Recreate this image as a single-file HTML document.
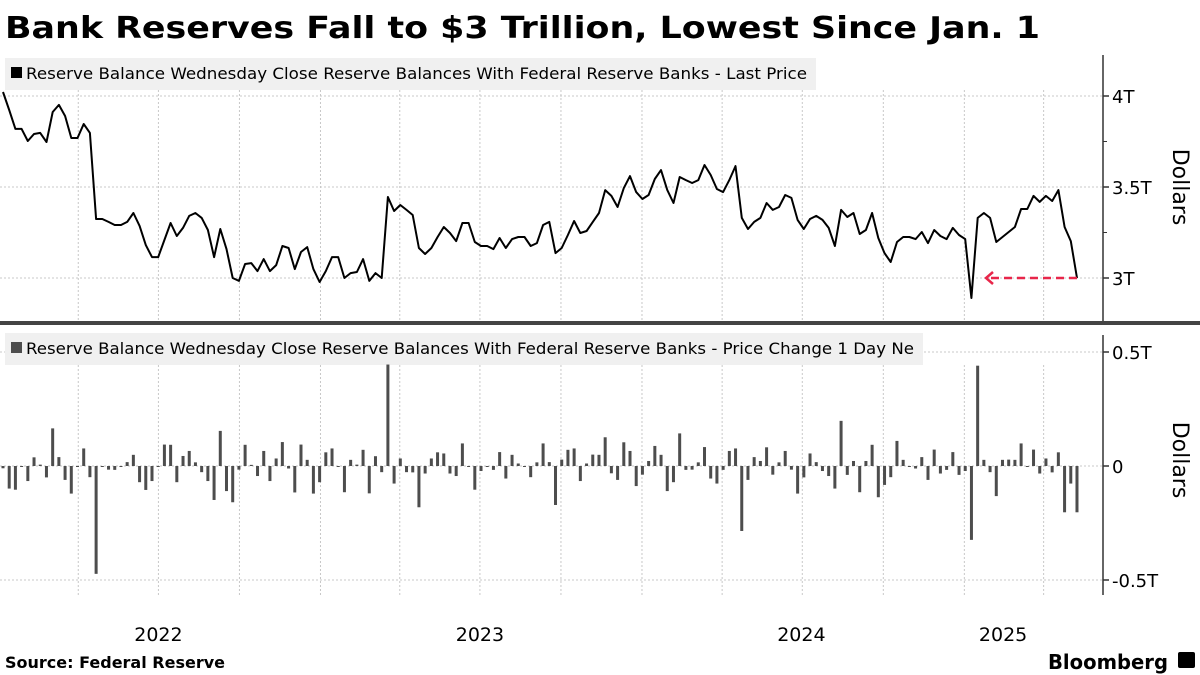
<!DOCTYPE html>
<html><head><meta charset="utf-8"><style>
html,body{margin:0;padding:0;background:#fff}
svg{display:block}
</style></head><body>
<svg id="chart" width="1200" height="675" viewBox="0 0 1200 675" xmlns="http://www.w3.org/2000/svg">
<text x="5" y="38" font-family="DejaVu Sans, sans-serif" font-weight="bold" font-size="30" textLength="1035" lengthAdjust="spacingAndGlyphs" fill="#000">Bank Reserves Fall to $3 Trillion, Lowest Since Jan. 1</text>
<g id="grid"></g>
<rect x="5" y="58" width="811" height="32" fill="#f0f0f0"/>
<rect x="11" y="67" width="11" height="11" fill="#000"/>
<text x="26" y="79" font-family="DejaVu Sans, sans-serif" font-size="16" textLength="781" lengthAdjust="spacingAndGlyphs" fill="#000">Reserve Balance Wednesday Close Reserve Balances With Federal Reserve Banks - Last Price</text>
<rect x="5" y="333" width="918" height="32" fill="#f0f0f0"/>
<rect x="11" y="342" width="11" height="11" fill="#4d4d4d"/>
<text x="26" y="354" font-family="DejaVu Sans, sans-serif" font-size="16" textLength="888" lengthAdjust="spacingAndGlyphs" fill="#000">Reserve Balance Wednesday Close Reserve Balances With Federal Reserve Banks - Price Change 1 Day Ne</text>
<g id="marks"></g>
<rect x="0" y="321" width="1200" height="4" fill="#444"/>
<line x1="1103" y1="55" x2="1103" y2="321" stroke="#333" stroke-width="1.5"/>
<line x1="1103" y1="335" x2="1103" y2="595" stroke="#333" stroke-width="1.5"/>
<g id="axes"></g>
<text transform="translate(1173,187) rotate(90)" text-anchor="middle" font-family="DejaVu Sans, sans-serif" font-size="22" fill="#000">Dollars</text>
<text transform="translate(1173,460) rotate(90)" text-anchor="middle" font-family="DejaVu Sans, sans-serif" font-size="22" fill="#000">Dollars</text>
<text x="5" y="668" font-family="DejaVu Sans, sans-serif" font-weight="bold" font-size="16" fill="#000">Source: Federal Reserve</text>
<text x="1048" y="669" font-family="DejaVu Sans, sans-serif" font-weight="bold" font-size="20" textLength="120" lengthAdjust="spacingAndGlyphs" fill="#000">Bloomberg</text>
<rect x="1178" y="652" width="17" height="16" rx="2" fill="#000"/>
</svg>
<script>
// Weekly reserve balances, billions USD, starting Wed 2022-01-05
const levels = [4022,3923,3819,3819,3753,3791,3797,3747,3912,3951,3890,3769,3769,3846,3797,3324,3324,3308,3291,3291,3308,3357,3286,3181,3115,3115,3209,3302,3231,3275,3341,3357,3330,3264,3115,3269,3159,3000,2984,3077,3082,3038,3104,3038,3071,3176,3165,3049,3143,3170,3049,2978,3038,3115,3115,3000,3027,3033,3104,2984,3027,3000,3445,3368,3401,
3374,3346,3165,3132,3165,3225,3280,3247,3203,3302,3302,3198,3176,3176,3159,3220,3165,3214,3225,3225,3176,3192,3291,3308,3137,3165,3236,3313,3247,3258,3308,3357,3483,3451,3390,3494,3560,3472,3434,3456,3544,3593,3483,3412,3555,3538,3522,3538,3621,3566,3489,3472,3538,3615,3330,3269,3308,3330,3412,3374,3390,3456,3440,3319,
3269,3324,3341,3319,3275,3176,3374,3335,3357,3242,3264,3357,3220,3137,3088,3198,3225,3225,3214,3253,3192,3264,3231,3214,3275,3236,3214,2890,3330,3357,3330,3198,3225,3253,3280,3379,3379,3451,3418,3451,3423,3483,3280,3203,3000];
const priorLevel = 4032;
const topTicks = [4000,3500,3000];
const topTickLabels = ["4T","3.5T","3T"];
const bottomTicks = [500,0,-500];
const bottomTickLabels = ["0.5T","0","-0.5T"];
const years = ["2022","2023","2024","2025"];
const yearMidDays = [181,546,911,1140];
const gridDays = [90,181,273,365,455,546,638,730,821,912,1004,1096,1186];

const NS="http://www.w3.org/2000/svg";
const xDay = d => -1 + d*0.8808;
const xIdx = i => 3 + i*6.208;
const yTop = v => 96 + (4000 - v)*0.182;
const yBot = v => 466 - v*0.228;
function mk(tag, attrs, parent){const e=document.createElementNS(NS,tag);for(const k in attrs)e.setAttribute(k,attrs[k]);parent.appendChild(e);return e;}
const grid=document.getElementById('grid'), marks=document.getElementById('marks'), axes=document.getElementById('axes');

gridDays.forEach(d=>{
  const x=xDay(d);
  let g=mk('line',{x1:x,y1:90,x2:x,y2:321,stroke:'#c8c8c8','stroke-dasharray':'2,2'},grid);
  
  
  g=mk('line',{x1:x,y1:365,x2:x,y2:595,stroke:'#c8c8c8','stroke-dasharray':'2,2'},grid);
  
  
});
topTicks.forEach((v,i)=>{
  const y=yTop(v);
  let g=mk('line',{x1:0,y1:y,x2:1103,y2:y,stroke:'#c8c8c8','stroke-dasharray':'2,2'},grid);
  
  
  mk('line',{x1:1103,y1:y,x2:1109,y2:y,stroke:'#333','stroke-width':1.5},axes);
  const t=mk('text',{x:1112,y:y+7,'font-family':'DejaVu Sans, sans-serif','font-size':18,fill:'#000'},axes);
  t.textContent=topTickLabels[i];
  
  
});
[3750,3250].forEach(v=>{const y=yTop(v);mk('line',{x1:1103,y1:y,x2:1107,y2:y,stroke:'#333','stroke-width':1},axes);});
bottomTicks.forEach((v,i)=>{
  const y=yBot(v);
  let g=mk('line',{x1:0,y1:y,x2:1103,y2:y,stroke:'#c8c8c8','stroke-dasharray':'2,2'},grid);
  
  
  mk('line',{x1:1103,y1:y,x2:1109,y2:y,stroke:'#333','stroke-width':1.5},axes);
  const t=mk('text',{x:1112,y:y+7,'font-family':'DejaVu Sans, sans-serif','font-size':18,fill:'#000'},axes);
  t.textContent=bottomTickLabels[i];
  
  
});
years.forEach((yr,i)=>{
  const t=mk('text',{x:xDay(yearMidDays[i]),y:641,'text-anchor':'middle','font-family':'DejaVu Sans, sans-serif','font-size':19,fill:'#000'},axes);
  t.textContent=yr;
  
  
});

const pts=levels.map((v,i)=>xIdx(i).toFixed(1)+','+yTop(v).toFixed(1)).join(' ');
const line=mk('polyline',{points:pts,fill:'none',stroke:'#000','stroke-width':2,'stroke-linejoin':'round'},marks);



levels.forEach((v,i)=>{
  const prev = i===0 ? priorLevel : levels[i-1];
  const c = v - prev;
  const y0=yBot(0), y1=yBot(c);
  const b=mk('rect',{x:xIdx(i)-1.5,y:Math.min(y0,y1),width:3,height:Math.max(1,Math.abs(y1-y0)),fill:'#4d4d4d'},marks);
  
  
});

const last=levels.length-1, ya=yTop(levels[last]);
const ar=mk('line',{x1:xIdx(last),y1:ya,x2:988,y2:ya,stroke:'#e8264a','stroke-width':2.5,'stroke-dasharray':'8,5'},marks);


const ah=mk('polyline',{points:`993,${ya-6} 986,${ya} 993,${ya+6}`,fill:'none',stroke:'#e8264a','stroke-width':2.5},marks);


</script>
</body></html>
